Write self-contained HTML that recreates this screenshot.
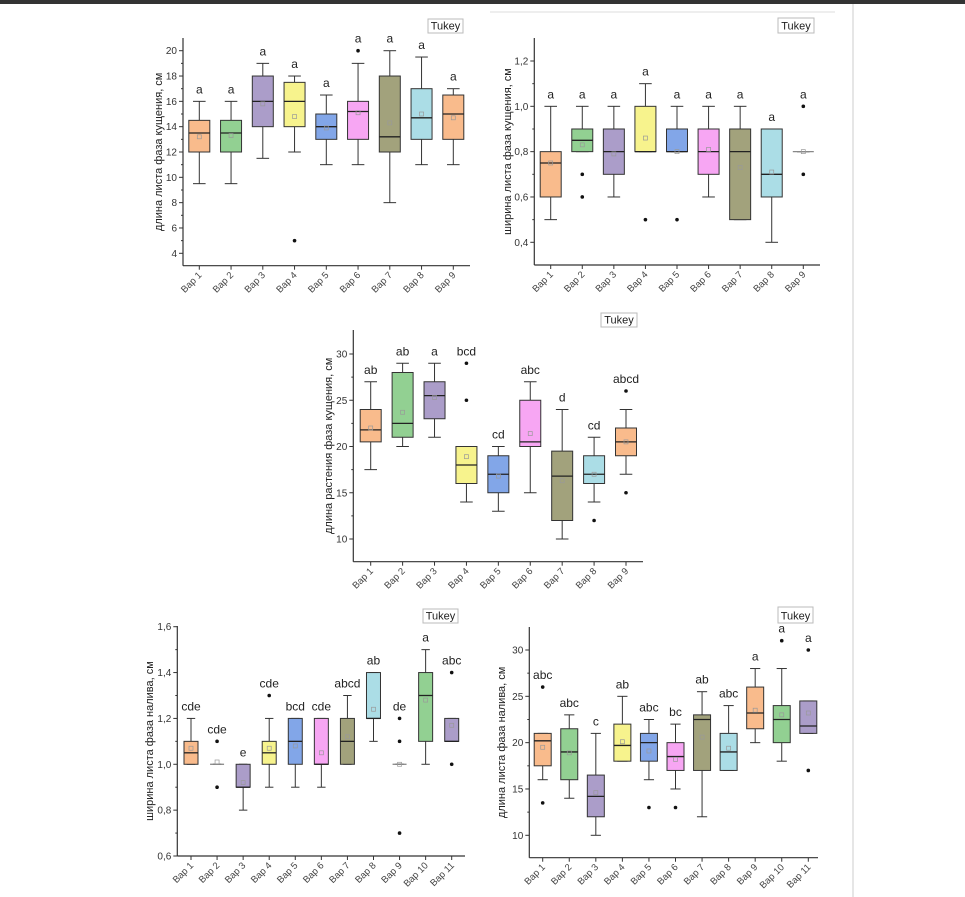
<!DOCTYPE html>
<html><head><meta charset="utf-8"><style>
html,body{margin:0;padding:0;background:#fff;}
svg{display:block;font-family:"Liberation Sans",sans-serif;}
</style></head><body>
<svg id="fig" width="965" height="897" viewBox="0 0 965 897">
<rect x="0" y="0" width="965" height="4" fill="#333"/>
<line x1="490" y1="12" x2="835" y2="12" stroke="#ddd"/>
<line x1="853" y1="4" x2="853" y2="897" stroke="#ccc"/>
</svg>
<script>
const COLORS=["#f9bb8c","#92d092","#ab9dc9","#f7f38d","#82a6e8","#f7a6f3","#a2a27c","#abdde6","#f9bb8c","#92d092","#ab9dc9"];
// Panel 1
const p1Cats=["Вар 1","Вар 2","Вар 3","Вар 4","Вар 5","Вар 6","Вар 7","Вар 8","Вар 9"];
const p1Q1=[12,12,14,14,13,13,12,13,13];
const p1Med=[13.5,13.5,16,16,14,15.2,13.2,14.7,15];
const p1Q3=[14.5,14.5,18,17.5,15,16,18,17,16.5];
const p1Lo=[9.5,9.5,11.5,12,11,11,8,11,11];
const p1Hi=[16,16,19,18,16.5,19,20,19.5,17];
const p1Mean=[13.2,13.3,15.8,14.8,13.9,15.1,14.3,15,14.7];
const p1Out=[[],[],[],[5],[],[20],[],[],[]];
const p1Let=["a","a","a","a","a","a","a","a","a"];
const p1Ticks=[4,6,8,10,12,14,16,18,20];
// Panel 2
const p2Cats=p1Cats;
const p2Q1=[0.6,0.8,0.7,0.8,0.8,0.7,0.5,0.6,0.8];
const p2Med=[0.75,0.85,0.8,0.8,0.8,0.8,0.8,0.7,0.8];
const p2Q3=[0.8,0.9,0.9,1.0,0.9,0.9,0.9,0.9,0.8];
const p2Lo=[0.5,0.8,0.6,0.8,0.8,0.6,0.5,0.4,0.8];
const p2Hi=[1.0,1.0,1.0,1.1,1.0,1.0,1.0,0.9,0.8];
const p2Mean=[0.75,0.83,0.79,0.86,0.8,0.81,0.73,0.71,0.8];
const p2Out=[[],[0.7,0.6],[],[0.5],[0.5],[],[],[],[1.0,0.7]];
const p2Let=["a","a","a","a","a","a","a","a","a"];
const p2Ticks=[0.4,0.6,0.8,1.0,1.2];
// Panel 3
const p3Cats=p1Cats;
const p3Q1=[20.5,21,23,16,15,20,12,16,19];
const p3Med=[21.8,22.5,25.5,18,17,20.5,16.8,17,20.5];
const p3Q3=[24,28,27,20,19,25,19.5,19,22];
const p3Lo=[17.5,20,21,14,13,15,10,14,17];
const p3Hi=[27,29,29,20,20,27,24,21,24];
const p3Mean=[22,23.7,25.3,18.9,16.8,21.4,16.3,17,20.5];
const p3Out=[[],[],[],[29,25],[],[],[],[12],[26,15]];
const p3Let=["ab","ab","a","bcd","cd","abc","d","cd","abcd"];
const p3Ticks=[10,15,20,25,30];
// Panel 4
const p4Cats=["Вар 1","Вар 2","Вар 3","Вар 4","Вар 5","Вар 6","Вар 7","Вар 8","Вар 9","Вар 10","Вар 11"];
const p4Q1=[1.0,1.0,0.9,1.0,1.0,1.0,1.0,1.2,1.0,1.1,1.1];
const p4Med=[1.05,1.0,0.9,1.05,1.1,1.0,1.1,1.2,1.0,1.3,1.1];
const p4Q3=[1.1,1.0,1.0,1.1,1.2,1.2,1.2,1.4,1.0,1.4,1.2];
const p4Lo=[1.0,1.0,0.8,0.9,0.9,0.9,1.0,1.1,1.0,1.0,1.1];
const p4Hi=[1.2,1.0,1.0,1.2,1.2,1.2,1.3,1.4,1.0,1.5,1.2];
const p4Mean=[1.07,1.01,0.92,1.07,1.08,1.05,1.12,1.24,1.0,1.28,1.17];
const p4Out=[[],[1.1,0.9],[],[1.3],[],[],[],[],[1.2,1.1,0.7],[],[1.4,1.0]];
const p4Let=["cde","cde","e","cde","bcd","cde","abcd","ab","de","a","abc"];
const p4Ticks=[0.6,0.8,1.0,1.2,1.4,1.6];
// Panel 5
const p5Cats=p4Cats;
const p5Q1=[17.5,16,12,18,18,17,17,17,21.5,20,21];
const p5Med=[20.2,19,14.2,19.7,20,18.5,22.5,19,23.2,22.5,21.8];
const p5Q3=[21,21.5,16.5,22,21,20,23,21,26,24,24.5];
const p5Lo=[16,14,10,18,16,15,12,17,20,18,21];
const p5Hi=[21,23,21,25,22.5,22,25.5,24,28,28,24.5];
const p5Mean=[19.5,18.9,14.6,20.1,19.1,18.2,20.6,19.4,23.5,23,23.2];
const p5Out=[[26,13.5],[],[],[],[13],[13],[],[],[],[31],[30,17]];
const p5Let=["abc","abc","c","ab","abc","bc","ab","abc","a","a","a"];
const p5Ticks=[10,15,20,25,30];

const NS="http://www.w3.org/2000/svg";
const svg=document.getElementById("fig");
function mk(tag,attrs,parent){const e=document.createElementNS(NS,tag);for(const k in attrs)e.setAttribute(k,attrs[k]);(parent||svg).appendChild(e);return e;}

function panel(id,cfg,cats,q1,med,q3,lo,hi,mean,out,lets,ticks){
  const g=mk("g",{});
  
  
  const y=v=>cfg.y0px+(v-cfg.y0)*(cfg.y1px-cfg.y0px)/(cfg.y1-cfg.y0);
  const x=i=>cfg.x0px+i*(cfg.x1px-cfg.x0px)/(cats.length-1);
  const fmt=v=>cfg.dec?v.toFixed(1).replace(".",","):String(v);
  const ya=mk("line",{x1:cfg.ax,y1:cfg.top,x2:cfg.ax,y2:cfg.bot,stroke:"#333","stroke-width":1.2},g);
  
  
  const xa=mk("line",{x1:cfg.ax,y1:cfg.bot,x2:cfg.right,y2:cfg.bot,stroke:"#333","stroke-width":1.2},g);
  
  
  ticks.forEach((t,k)=>{
    const py=y(t);
    mk("line",{x1:cfg.ax-4,y1:py,x2:cfg.ax,y2:py,stroke:"#333"},g);
    if(k<ticks.length-1){const my=y(t+(ticks[1]-ticks[0])/2);mk("line",{x1:cfg.ax-2,y1:my,x2:cfg.ax,y2:my,stroke:"#333"},g);}
    const tl=mk("text",{x:cfg.ax-6,y:py+3.5,"text-anchor":"end","font-size":10,fill:"#333"},g);
    tl.textContent=fmt(t);
    
    
  });
  const cy=(cfg.top+cfg.bot)/2;
  const yt=mk("text",{x:cfg.tx,y:cy,"text-anchor":"middle","font-size":11,fill:"#222",transform:`rotate(-90 ${cfg.tx} ${cy})`},g);
  yt.textContent=cfg.title;
  
  
  const tb=mk("rect",{x:cfg.tk[0],y:cfg.tk[1],width:cfg.tk[2],height:cfg.tk[3],fill:"#fff",stroke:"#bbb"},g);
  
  
  const tt=mk("text",{x:cfg.tk[0]+cfg.tk[2]/2,y:cfg.tk[1]+cfg.tk[3]-3.5,"text-anchor":"middle","font-size":11,fill:"#222"},g);
  tt.textContent="Tukey";
  
  
  const w=cfg.bw;
  cats.forEach((c,i)=>{
    const cx=x(i);
    mk("line",{x1:cx,y1:cfg.bot,x2:cx,y2:cfg.bot+4,stroke:"#333"},g);
    const xl=mk("text",{x:cx+3,y:cfg.bot+10,"text-anchor":"end","font-size":9.5,fill:"#444",transform:`rotate(-45 ${cx+3} ${cfg.bot+10})`},g);
    xl.textContent=c;
    
    
    const bg=mk("g",{},g);
    
    
    mk("line",{x1:cx,y1:y(hi[i]),x2:cx,y2:y(q3[i]),stroke:"#333","stroke-width":1},bg);
    mk("line",{x1:cx,y1:y(lo[i]),x2:cx,y2:y(q1[i]),stroke:"#333","stroke-width":1},bg);
    mk("line",{x1:cx-w*0.3,y1:y(hi[i]),x2:cx+w*0.3,y2:y(hi[i]),stroke:"#333"},bg);
    mk("line",{x1:cx-w*0.3,y1:y(lo[i]),x2:cx+w*0.3,y2:y(lo[i]),stroke:"#333"},bg);
    const h=Math.max(y(q1[i])-y(q3[i]),0);
    if(h>0) mk("rect",{x:cx-w/2,y:y(q3[i]),width:w,height:h,fill:COLORS[i],stroke:"#333","stroke-width":1},bg);
    mk("line",{x1:cx-w/2,y1:y(med[i]),x2:cx+w/2,y2:y(med[i]),stroke:h>0?"#222":"#888","stroke-width":1.3},bg);
    mk("rect",{x:cx-2,y:y(mean[i])-2,width:4,height:4,fill:"none",stroke:"#999","stroke-width":0.7},bg);
    out[i].forEach(o=>mk("circle",{cx:cx,cy:y(o),r:1.8,fill:"#111"},bg));
    const top=Math.min(y(hi[i]),...out[i].map(y));
    const lt=mk("text",{x:cx,y:top-8,"text-anchor":"middle","font-size":12,fill:"#222"},g);
    lt.textContent=lets[i];
    
    
  });
}
panel("chart-leaf-length-tillering",{y0:4,y1:20,y0px:253.3,y1px:50.7,ax:183,top:38,bot:265.7,right:470,x0px:199.3,x1px:453.3,bw:21,tx:162,title:"длина листа фаза кущения, см",tk:[428,19,35,14]},p1Cats,p1Q1,p1Med,p1Q3,p1Lo,p1Hi,p1Mean,p1Out,p1Let,p1Ticks);
panel("chart-leaf-width-tillering",{y0:0.4,y1:1.2,y0px:242.3,y1px:61,ax:534.3,top:38,bot:265,right:820,x0px:550.7,x1px:803.3,bw:21,dec:true,tx:511,title:"ширина листа фаза кущения, см",tk:[778,18,36,15]},p2Cats,p2Q1,p2Med,p2Q3,p2Lo,p2Hi,p2Mean,p2Out,p2Let,p2Ticks);
panel("chart-plant-length-tillering",{y0:10,y1:30,y0px:539,y1px:354,ax:353.3,top:330,bot:561.7,right:643,x0px:370.7,x1px:626,bw:21,tx:332,title:"длина растения фаза кущения, см",tk:[601,313,36,14]},p3Cats,p3Q1,p3Med,p3Q3,p3Lo,p3Hi,p3Mean,p3Out,p3Let,p3Ticks);
panel("chart-leaf-width-filling",{y0:0.6,y1:1.6,y0px:856,y1px:626.7,ax:177.3,top:626,bot:856,right:465,x0px:191,x1px:451.7,bw:14,dec:true,tx:153,title:"ширина листа фаза налива, см",tk:[423,609,35,14]},p4Cats,p4Q1,p4Med,p4Q3,p4Lo,p4Hi,p4Mean,p4Out,p4Let,p4Ticks);
panel("chart-leaf-length-filling",{y0:10,y1:30,y0px:835.3,y1px:650,ax:529.3,top:627,bot:857.7,right:818,x0px:542.7,x1px:808.3,bw:17,tx:505,title:"длина листа фаза налива, см",tk:[778,607,35,16]},p5Cats,p5Q1,p5Med,p5Q3,p5Lo,p5Hi,p5Mean,p5Out,p5Let,p5Ticks);
</script>
</body></html>
